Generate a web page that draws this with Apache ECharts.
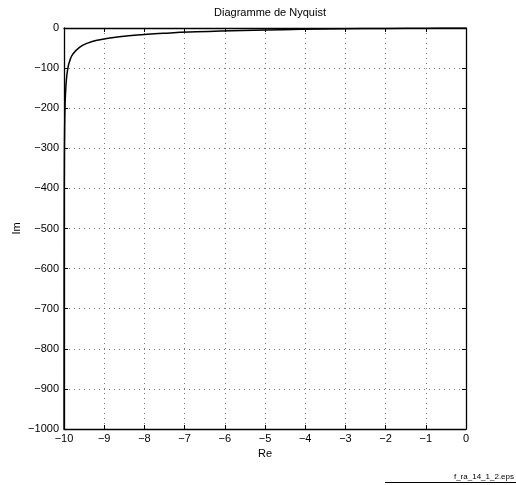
<!DOCTYPE html>
<html>
<head>
<meta charset="utf-8">
<script src="https://cdn.jsdelivr.net/npm/echarts@6/dist/echarts.min.js"></script>
<style>
  html, body { margin: 0; padding: 0; background: #fff; }
  #chart { width: 516px; height: 485px; }
</style>
</head>
<body>
<div id="chart"></div>
<script>
// Nyquist locus of an integrator with a first-order lag (real vs imaginary part)
const re = [-9.999, -9.998, -9.996, -9.991, -9.984, -9.975, -9.964, -9.936, -9.901,
            -9.858, -9.780, -9.615, -9.412, -9.174, -8.621, -8.0, -7.353, -6.711,
            -6.098, -5.0, -4.098, -3.077, -2.0, -1.0, -0.385, -0.099, -0.001];
const im = [-999.9, -666.5, -499.8, -333.0, -249.6, -199.5, -166.1, -124.2, -99.0,
            -82.2, -65.2, -48.1, -37.6, -30.6, -21.6, -16.0, -12.25, -9.59,
            -7.62, -5.0, -3.415, -2.051, -1.0, -0.333, -0.077, -0.0099, 0];
const xTicks = [-10, -9, -8, -7, -6, -5, -4, -3, -2, -1, 0];
const yTicks = [-1000, -900, -800, -700, -600, -500, -400, -300, -200, -100, 0];

const points = re.map((x, i) => [x, im[i]]);
const minus = v => (v < 0 ? '\u2212' + Math.abs(v) : String(v));
const font = 'Liberation Sans, Arial, Helvetica, sans-serif';

const chart = echarts.init(document.getElementById('chart'), null, { renderer: 'canvas' });

const axisCommon = {
  type: 'value',
  axisLine: { show: true, onZero: false, lineStyle: { color: '#000', width: 1.3 } },
  axisTick: { show: true, inside: true, length: 4, lineStyle: { color: '#000', width: 1 } },
  splitLine: { show: false }
};

chart.setOption({
  animation: false,
  backgroundColor: '#fff',
  title: {
    text: 'Diagramme de Nyquist',
    left: 265, top: 2, textAlign: 'center',
    textStyle: { fontFamily: font, fontSize: 11, fontWeight: 'normal', color: '#000' }
  },
  grid: { left: 64, top: 28, width: 402, height: 401, containLabel: false },
  xAxis: [
    Object.assign({}, axisCommon, {
      position: 'bottom',
      min: xTicks[0], max: xTicks[xTicks.length - 1], interval: 1,
      name: 'Re', nameLocation: 'middle', nameGap: 19,
      nameTextStyle: { fontFamily: font, fontSize: 11, color: '#000' },
      axisLabel: { margin: 4, fontFamily: font, fontSize: 11, color: '#000', formatter: minus },
      splitLine: { show: true, lineStyle: { color: '#777', width: 1, type: [1, 4] } }
    }),
    Object.assign({}, axisCommon, {
      position: 'top',
      min: xTicks[0], max: xTicks[xTicks.length - 1], interval: 1,
      axisLabel: { show: false }
    })
  ],
  yAxis: [
    Object.assign({}, axisCommon, {
      position: 'left',
      min: yTicks[0], max: yTicks[yTicks.length - 1], interval: 100,
      name: 'Im', nameLocation: 'middle', nameGap: 42, nameMoveOverlap: false,
      nameTextStyle: { fontFamily: font, fontSize: 11, color: '#000' },
      axisLabel: { margin: 5, fontFamily: font, fontSize: 11, color: '#000', formatter: minus },
      splitLine: { show: true, lineStyle: { color: '#777', width: 1, type: [1, 4] } }
    }),
    Object.assign({}, axisCommon, {
      position: 'right',
      min: yTicks[0], max: yTicks[yTicks.length - 1], interval: 100,
      axisLabel: { show: false }
    })
  ],
  series: [{
    type: 'line',
    data: points,
    xAxisIndex: 0, yAxisIndex: 0,
    showSymbol: false,
    smooth: true,
    clip: true,
    lineStyle: { color: '#000', width: 1.5 }
  }],
  graphic: [
    {
      type: 'text', right: 2, top: 473,
      style: { text: 'f_ra_14_1_2.eps', font: '8px ' + font, fill: '#000' }
    },
    {
      type: 'line',
      shape: { x1: 385, y1: 482.5, x2: 516, y2: 482.5 },
      style: { stroke: '#000', lineWidth: 1 }
    }
  ]
});
</script>
</body>
</html>
